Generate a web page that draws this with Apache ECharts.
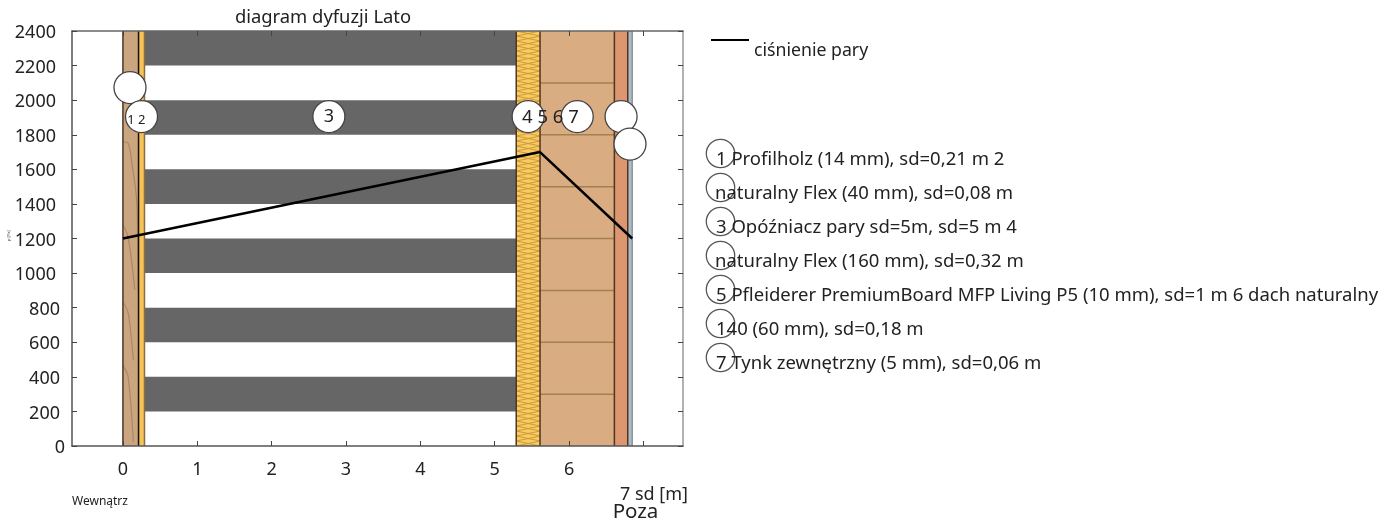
<!DOCTYPE html>
<html>
<head>
<meta charset="utf-8">
<style>html,body{margin:0;padding:0;background:#fff}#c{width:1393px;height:521px}</style>
<script src="https://cdn.jsdelivr.net/npm/echarts@6/dist/echarts.min.js"></script>
</head>
<body>
<div id="c"></div>
<script>
const chartTitle = 'diagram dyfuzji Lato';
const seriesName = 'ciśnienie pary';
const xTickValues = [0, 1, 2, 3, 4, 5, 6, 7];
const xLabelValues = [0, 1, 2, 3, 4, 5, 6];
const pressure = [[0, 1200], [5.61, 1700], [6.85, 1200]];
const layerEdges = [0, 0.21, 0.29, 5.29, 5.61, 6.61, 6.79, 6.85];
const layerFills = ['#cba480', '#f6c354', null, 'zigzag', '#d9ac82', '#dc9670', '#aebcc7'];
const membraneBands = [[200, 400], [600, 800], [1000, 1200], [1400, 1600], [1800, 2000], [2200, 2400]];
const plankSeams = [300, 600, 900, 1200, 1500, 1800, 2100];
const grainA = [[0, 1758], [0.07, 1752], [0.12, 1636], [0.185, 1422], [0.2, 1100], [0.205, 900]];
const grainB = [[0, 1278], [0.07, 1208], [0.16, 902]];
const grainC = [[0, 833], [0.07, 770], [0.14, 497]];
const grainD = [[0, 468], [0.07, 400], [0.14, 23]];
const bubbles = [[0.095, 2073], [0.25, 1905], [2.77, 1905], [5.45, 1905], [6.11, 1905], [6.7, 1905], [6.82, 1746]];
const bubbleLabels = [[0.18, 1885, '1 2', 13], [2.77, 1905, '3', 18], [5.75, 1900, '4 5 6 7', 18.5]];
const legendLines = [
  '1 Profilholz (14 mm), sd=0,21 m 2',
  'naturalny Flex (40 mm), sd=0,08 m',
  '3 Opóźniacz pary sd=5m, sd=5 m 4',
  'naturalny Flex (160 mm), sd=0,32 m',
  '5 Pfleiderer PremiumBoard MFP Living P5 (10 mm), sd=1 m 6 dach naturalny',
  '140 (60 mm), sd=0,18 m',
  '7 Tynk zewnętrzny (5 mm), sd=0,06 m'
];
const FONT = '"Noto Sans", "Open Sans", sans-serif';
const INK = '#222';

function zigzagPattern() {
  const c = document.createElement('canvas');
  c.width = 24; c.height = 20;
  const g = c.getContext('2d');
  g.fillStyle = '#fbcd5e'; g.fillRect(0, 0, 24, 20);
  g.strokeStyle = '#c9993f'; g.lineWidth = 1;
  g.beginPath();
  g.moveTo(0, 0); g.lineTo(24, 5); g.lineTo(0, 10); g.lineTo(24, 15); g.lineTo(0, 20);
  g.moveTo(24, 0); g.lineTo(0, 5); g.lineTo(24, 10); g.lineTo(0, 15); g.lineTo(24, 20);
  g.stroke();
  return c;
}
const zig = zigzagPattern();

const grainSeries = [grainA, grainB, grainC, grainD].map(d => ({
  type: 'line', data: d, smooth: 0.3, symbol: 'none', silent: true, z: 3,
  lineStyle: { color: '#ab8868', width: 1.2 }
}));

const layerData = layerFills.map((f, i) => [layerEdges[i], layerEdges[i + 1], i]);

const legendGraphics = [];
legendLines.forEach((t, i) => {
  legendGraphics.push({
    type: 'circle', shape: { cx: 720.5, cy: 153.5 + i * 34, r: 14.2 },
    style: { fill: 'none', stroke: '#555', lineWidth: 1.3 }, z: 5
  });
  legendGraphics.push({
    type: 'text', x: i % 2 === 1 && i !== 5 ? 715 : 716, y: 160 + i * 34,
    style: { text: t, font: '18.5px ' + FONT, fill: INK, align: 'left', verticalAlign: 'middle' }, z: 6
  });
});

const yRich = {
  a: { fontSize: 18, fontFamily: FONT, color: INK, padding: [4, 0, 0, 0] },
  b: { fontSize: 18, fontFamily: FONT, color: INK, padding: [4, 5, 0, 0] },
  c: { fontSize: 18, fontFamily: FONT, color: INK, padding: [4, 9, 0, 0] }
};

const chart = echarts.init(document.getElementById('c'), null, { renderer: 'canvas' });
chart.setOption({
  animation: false,
  backgroundColor: '#fff',
  title: {
    text: chartTitle, left: 318, top: 4, textAlign: 'center',
    textStyle: { fontFamily: FONT, fontSize: 18.4, fontWeight: 'normal', color: INK }
  },
  legend: {
    left: 706, top: 34, itemWidth: 38, itemHeight: 18, icon: 'path://M0 0H38V2H0Z',
    data: [{ name: seriesName }],
    formatter: n => '{t|' + n + '}',
    textStyle: { rich: { t: { fontFamily: FONT, fontSize: 17.7, color: INK, padding: [22, 0, 0, 0] } } }
  },
  grid: { left: 72, right: 710, top: 31, bottom: 75, containLabel: false },
  xAxis: [{
    type: 'value', position: 'bottom', min: -0.685, max: 7.533, z: 10,
    splitLine: { show: false },
    axisLine: { show: true, onZero: false, lineStyle: { color: '#555', width: 1.5 } },
    axisTick: { show: true, inside: true, length: 5, customValues: xTickValues, lineStyle: { color: '#444' } },
    axisLabel: { customValues: xLabelValues, margin: 15, fontSize: 18, fontFamily: FONT, color: INK, showMinLabel: true, showMaxLabel: true }
  }, {
    type: 'value', position: 'top', min: -0.685, max: 7.533, z: 10,
    splitLine: { show: false },
    axisLine: { show: true, onZero: false, lineStyle: { color: '#666', width: 1.5 } },
    axisTick: { show: true, inside: true, length: 5, customValues: xTickValues, lineStyle: { color: '#444' } },
    axisLabel: { show: false }
  }],
  yAxis: [{
    type: 'value', position: 'left', min: 0, max: 2400, interval: 200, z: 10,
    splitLine: { show: false },
    axisLine: { show: true, onZero: false, lineStyle: { color: '#555', width: 1.5 } },
    axisTick: { show: true, inside: true, length: 5, lineStyle: { color: '#444' } },
    axisLabel: {
      margin: 7, rich: yRich,
      formatter: v => { const s = String(v); return '{' + (s.length === 1 ? 'a' : s.length === 3 ? 'b' : 'c') + '|' + s + '}'; }
    },
    name: 'p [Pa]', nameLocation: 'middle', nameGap: 60, nameRotate: 90,
    nameTextStyle: { fontSize: 4, color: '#444', fontFamily: FONT, padding: [0, 0, 0, 6] }
  }, {
    type: 'value', position: 'right', min: 0, max: 2400, interval: 200, z: 10,
    splitLine: { show: false },
    axisLine: { show: true, onZero: false, lineStyle: { color: '#999', width: 1.5 } },
    axisTick: { show: true, inside: true, length: 5, lineStyle: { color: '#444' } },
    axisLabel: { show: false }
  }],
  graphic: [
    { type: 'text', x: 654, y: 495, style: { text: '7 sd [m]', font: '18px ' + FONT, fill: INK, align: 'center', verticalAlign: 'middle' } },
    { type: 'text', x: 635.5, y: 512, style: { text: 'Poza', font: '20.5px ' + FONT, fill: INK, align: 'center', verticalAlign: 'middle' } },
    { type: 'text', x: 72, y: 502, style: { text: 'Wewnątrz', font: '12px ' + FONT, fill: INK, align: 'left', verticalAlign: 'middle' } }
  ].concat(legendGraphics),
  series: [
    {
      type: 'custom', silent: true, z: 1, data: membraneBands, clip: true,
      encode: { x: [], y: [0, 1] },
      renderItem: (p, api) => {
        const a = api.coord([layerEdges[2], api.value(0)]);
        const b = api.coord([layerEdges[3], api.value(1)]);
        return { type: 'rect', shape: { x: a[0], y: b[1], width: b[0] - a[0], height: a[1] - b[1] }, style: { fill: '#666' } };
      }
    },
    {
      type: 'custom', silent: true, z: 2, data: layerData, clip: true,
      encode: { x: [0, 1], y: [] },
      renderItem: (p, api) => {
        const a = api.coord([api.value(0), 0]);
        const b = api.coord([api.value(1), 2400]);
        const f = layerFills[api.value(2)];
        const w = b[0] - a[0], h = a[1] - b[1];
        const kids = [];
        if (f) kids.push({
          type: 'rect', shape: { x: a[0], y: b[1], width: w, height: h },
          style: { fill: f === 'zigzag' ? { image: zig, repeat: 'repeat', x: a[0], y: b[1] } : f }
        });
        return { type: 'group', children: kids };
      }
    },
    {
      type: 'custom', silent: true, z: 3, data: plankSeams, clip: true,
      encode: { y: 0, x: [] },
      renderItem: (p, api) => {
        const a = api.coord([layerEdges[4], api.value(0)]);
        const b = api.coord([layerEdges[5], api.value(0)]);
        return { type: 'line', shape: { x1: a[0], y1: a[1], x2: b[0], y2: b[1] }, style: { stroke: '#a5804f', lineWidth: 1.5 } };
      }
    },
    ...grainSeries,
    {
      type: 'custom', silent: true, z: 4, data: layerEdges, clip: true,
      encode: { x: 0, y: [] },
      renderItem: (p, api) => {
        const a = api.coord([api.value(0), 0]);
        const b = api.coord([api.value(0), 2400]);
        const i = p.dataIndex;
        return {
          type: 'line', shape: { x1: a[0], y1: a[1], x2: b[0], y2: b[1] },
          style: { stroke: i === 7 ? '#8b959c' : i === 1 ? '#111' : i === 2 ? '#8a6c45' : '#4c3626', lineWidth: 1.5 }
        };
      }
    },
    {
      name: seriesName, type: 'line', data: pressure, symbol: 'none', z: 5, clip: false,
      lineStyle: { color: '#000', width: 2.5 }, itemStyle: { color: '#000' }
    },
    {
      type: 'scatter', data: bubbles, symbol: 'circle', symbolSize: 32, z: 6, silent: true,
      itemStyle: { color: '#fff', borderColor: '#444', borderWidth: 1.3, opacity: 1 }
    },
    {
      type: 'scatter', symbolSize: 1, z: 7, silent: true,
      itemStyle: { color: 'rgba(0,0,0,0)', opacity: 1 },
      data: bubbleLabels.map(d => ({
        value: [d[0], d[1]], name: d[2],
        label: { show: true, position: 'inside', formatter: '{b}', fontFamily: FONT, color: INK, fontSize: d[3] }
      }))
    }
  ]
});
</script>
</body>
</html>
